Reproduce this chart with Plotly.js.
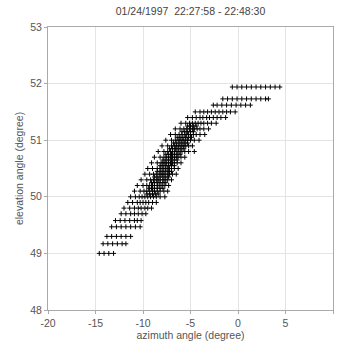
<!DOCTYPE html>
<html>
<head>
<meta charset="utf-8">
<script src="https://cdn.plot.ly/plotly-3.0.1.min.js"></script>
<style>html,body{margin:0;padding:0;background:#fff;}#chart{width:337px;height:347px;}</style>
</head>
<body>
<div id="chart"></div>
<script>
const titleText = "01/24/1997  22:27:58 - 22:48:30";
const xTicks = [-20, -15, -10, -5, 0, 5, 10];
const yTicks = [48, 49, 50, 51, 52, 53];

const elevationRows = [49.00, 49.17, 49.30, 49.47, 49.58, 49.70, 49.80, 49.90, 50.00, 50.10, 50.20, 50.30, 50.40, 50.50, 50.60, 50.70, 50.80, 50.90, 51.00, 51.10, 51.20, 51.30, 51.40, 51.50, 51.62, 51.73, 51.94];
const azimuthRows = [
  [-14.6, -14.1, -13.6, -13.1],
  [-14.2, -13.7, -13.2, -12.7, -12.2, -11.8],
  [-13.8, -13.3, -12.8, -12.3, -11.8, -11.3],
  [-13.3, -12.8, -12.3, -11.8, -11.3, -10.8, -10.3],
  [-12.9, -12.4, -11.9, -11.4, -10.9, -10.6, -10.2],
  [-12.3, -11.8, -11.3, -10.9, -10.5, -10.1, -9.7],
  [-12.0, -11.4, -10.9, -10.5, -10.2, -9.8, -9.5, -9.1],
  [-11.6, -11.1, -10.6, -10.3, -10.0, -9.7, -9.4, -9.0, -8.6],
  [-11.3, -10.8, -10.4, -10.1, -9.8, -9.5, -9.2, -8.9, -8.6, -8.2, -7.7],
  [-10.9, -10.3, -9.9, -9.6, -9.3, -9.0, -8.8, -8.5, -8.2, -7.8, -7.4],
  [-10.6, -10.0, -9.6, -9.3, -9.0, -8.8, -8.5, -8.3, -8.0, -7.7, -7.3],
  [-10.2, -9.6, -9.2, -8.9, -8.6, -8.4, -8.2, -7.9, -7.7, -7.4, -7.0],
  [-9.8, -9.3, -8.9, -8.6, -8.3, -8.1, -7.9, -7.7, -7.4, -7.2, -6.9, -6.5],
  [-9.5, -9.0, -8.5, -8.2, -8.0, -7.8, -7.6, -7.4, -7.2, -7.0, -6.7, -6.3],
  [-9.1, -8.5, -8.1, -7.9, -7.7, -7.5, -7.3, -7.1, -6.9, -6.7, -6.4, -6.0],
  [-8.8, -8.2, -7.8, -7.5, -7.3, -7.1, -6.9, -6.7, -6.5, -6.3, -6.0, -5.6],
  [-8.4, -7.8, -7.4, -7.1, -6.9, -6.7, -6.5, -6.3, -6.1, -5.9, -5.6, -5.2, -4.6],
  [-8.0, -7.4, -7.0, -6.7, -6.5, -6.3, -6.1, -5.9, -5.7, -5.5, -5.2, -4.8],
  [-7.6, -7.0, -6.6, -6.3, -6.1, -5.9, -5.7, -5.5, -5.3, -5.0, -4.6, -4.1],
  [-7.1, -6.6, -6.2, -5.9, -5.6, -5.4, -5.2, -5.0, -4.7, -4.4, -4.0, -3.5],
  [-6.6, -6.1, -5.7, -5.4, -5.1, -4.8, -4.6, -4.3, -4.0, -3.6, -3.1],
  [-6.0, -5.5, -5.1, -4.8, -4.5, -4.2, -3.9, -3.6, -3.2, -2.8, -2.3],
  [-5.3, -4.8, -4.4, -4.0, -3.7, -3.3, -3.0, -2.6, -2.2, -1.8, -1.3],
  [-4.5, -4.0, -3.6, -3.2, -2.8, -2.4, -2.0, -1.6, -1.2, -0.8, -0.3],
  [-2.6, -2.2, -1.7, -1.2, -0.7, -0.2, 0.3, 0.8, 1.3],
  [-1.6, -1.1, -0.6, -0.1, 0.4, 0.9, 1.4, 1.9, 2.4, 2.9, 3.2],
  [-0.6, -0.1, 0.4, 0.9, 1.4, 1.9, 2.4, 2.9, 3.4, 3.9, 4.4]
];

// dense core of the band (intermediate elevation levels)
const coreElevationRows = [50.05, 50.15, 50.25, 50.35, 50.45, 50.55, 50.65, 50.75, 50.85, 50.95, 51.05, 51.15, 51.25];
const coreAzimuthRows = [
  [-9.6, -9.3, -9.0, -8.7, -8.4],
  [-9.4, -9.1, -8.8, -8.5, -8.2, -7.9],
  [-9.1, -8.8, -8.5, -8.2, -7.9, -7.6],
  [-8.8, -8.5, -8.2, -7.9, -7.6, -7.3],
  [-8.5, -8.2, -7.9, -7.6, -7.3, -7.0],
  [-8.2, -7.9, -7.6, -7.3, -7.0, -6.7],
  [-7.9, -7.6, -7.3, -7.0, -6.7, -6.4],
  [-7.6, -7.3, -7.0, -6.7, -6.4, -6.1],
  [-7.2, -6.9, -6.6, -6.3, -6.0, -5.7],
  [-6.8, -6.5, -6.2, -5.9, -5.6, -5.3],
  [-6.4, -6.1, -5.8, -5.5, -5.2, -4.9],
  [-5.9, -5.6, -5.3, -5.0, -4.7],
  [-5.3, -5.0, -4.7, -4.4]
];

const xs = [], ys = [];
function addRows(levels, rows) {
  rows.forEach((row, i) => {
    row.forEach(a => { xs.push(a); ys.push(levels[i]); });
  });
}
addRows(elevationRows, azimuthRows);
addRows(coreElevationRows, coreAzimuthRows);

const fam = "Liberation Sans, Arial, sans-serif";
const font = {family: fam, size: 10.5, color: "#555"};
const trace = {
  x: xs, y: ys, type: "scatter", mode: "markers",
  marker: {symbol: "cross-thin-open", size: 3.5, color: "#000", line: {width: 1, color: "#000"}},
  hoverinfo: "none"
};
const axisCommon = {
  showline: true, mirror: true, linecolor: "#aaa", linewidth: 1,
  showgrid: true, gridcolor: "#e4e4e4", gridwidth: 1,
  ticks: "outside", ticklen: 3, tickcolor: "#aaa",
  zeroline: false, tickfont: font
};
const layout = {
  width: 337, height: 347,
  margin: {l: 48, r: 4, t: 27, b: 37},
  paper_bgcolor: "#fff", plot_bgcolor: "#fff",
  showlegend: false,
  font: font,
  title: {text: titleText, font: {family: fam, size: 10.5, color: "#444"}, xref: "paper", x: 0.5, xanchor: "center", y: 0.978, yanchor: "top"},
  xaxis: Object.assign({}, axisCommon, {
    range: [-20, 10], tickvals: xTicks, ticktext: xTicks.map(String),
    title: {text: "azimuth angle (degree)", font: {family: fam, size: 10.5, color: "#555"}, standoff: 2}
  }),
  yaxis: Object.assign({}, axisCommon, {
    range: [48, 53], tickvals: yTicks, ticktext: yTicks.map(String),
    title: {text: "elevation angle (degree)", font: {family: fam, size: 10.5, color: "#555"}, standoff: 4}
  })
};
Plotly.newPlot("chart", [trace], layout, {staticPlot: true, displayModeBar: false});
</script>
</body>
</html>
